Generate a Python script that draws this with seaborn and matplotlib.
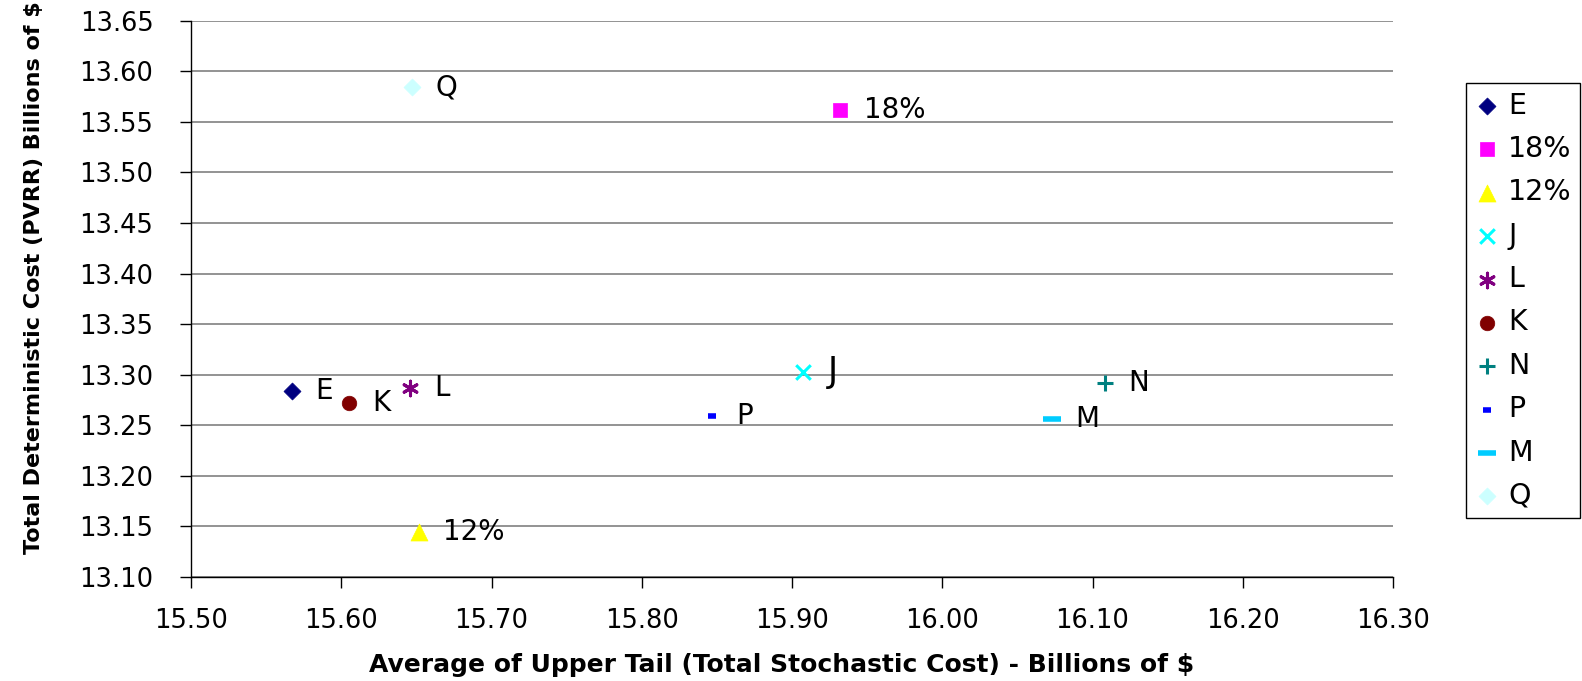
import matplotlib
matplotlib.use("Agg")
import matplotlib.pyplot as plt
import seaborn as sns

sns.set_style("white")
plt.rcParams['font.family'] = ['DejaVu Sans']
plt.rcParams['text.color'] = 'black'
plt.rcParams['xtick.color'] = 'black'
plt.rcParams['ytick.color'] = 'black'

# Data
names = ["E", "18%", "12%", "J", "L", "K", "N", "P", "M", "Q"]
x_vals = [15.567, 15.932, 15.652, 15.907, 15.646, 15.605, 16.108, 15.847, 16.073, 15.647]
y_vals = [13.284, 13.562, 13.144, 13.303, 13.287, 13.272, 13.292, 13.259, 13.256, 13.584]
colors = ["#000080", "#FF00FF", "#FFFF00", "#00FFFF", "#800080", "#800000",
          "#008080", "#0000FF", "#00CCFF", "#CCFFFF"]
markers = ["D", "s", "^", "x", (6, 2, 0), "o", "+", "_", "_", "D"]
sizes = [75, 90, 150, 110, 110, 110, 130, 40, 160, 75]
x_ticks = [15.50, 15.60, 15.70, 15.80, 15.90, 16.00, 16.10, 16.20, 16.30]
y_ticks = [13.10, 13.15, 13.20, 13.25, 13.30, 13.35, 13.40, 13.45, 13.50, 13.55, 13.60, 13.65]

fig = plt.figure(figsize=(15.82, 6.81), dpi=100)
ax = fig.add_axes([191/1582, 1-577/681, (1393-191)/1582, (577-20.7)/681])

for n, xv, yv, c, m, s in zip(names, x_vals, y_vals, colors, markers, sizes):
    filled = m in ("D", "s", "^", "o")
    if filled:
        sns.scatterplot(x=[xv], y=[yv], marker=m, color=c, s=s, edgecolor=c,
                        linewidth=0.5, label=n, ax=ax, zorder=3)
    else:
        sns.scatterplot(x=[xv], y=[yv], marker=m, color=c, s=s,
                        linewidth=2.2 if m != "_" else 4, label=n, ax=ax, zorder=3)
    fsz = 25 if n == "J" else 20
    off = 18 if n == "J" else 17
    ax.annotate(n, (xv, yv), xytext=(off, 0), textcoords="offset points",
                va="center", ha="left", fontsize=fsz, color="black")

ax.set_xlim(15.50, 16.30)
ax.set_ylim(13.10, 13.65)
ax.set_xticks(x_ticks)
ax.set_yticks(y_ticks)
ax.set_xticklabels([f"{t:.2f}" for t in x_ticks], fontsize=18.5)
ax.set_yticklabels([f"{t:.2f}" for t in y_ticks], fontsize=18.5)
ax.tick_params(axis="both", direction="out", length=8, width=1, color="black",
               left=True, bottom=True)
ax.tick_params(axis="y", pad=19)
ax.tick_params(axis="x", pad=14)
ax.yaxis.grid(True, color="#808080", linewidth=1.2)
ax.set_axisbelow(True)
for side in ["top", "right"]:
    ax.spines[side].set_visible(False)
for side in ["left", "bottom"]:
    ax.spines[side].set_color("black")
    ax.spines[side].set_linewidth(1)
ax.set_xlabel("")
ax.set_ylabel("")

fig.text(782/1582, 1-672/681, "Average of Upper Tail (Total Stochastic Cost) - Billions of $",
         ha="center", va="baseline", fontsize=18, fontweight="bold")
fig.text(34/1582, 1-554/681, "Total Deterministic Cost (PVRR) Billions of $",
         rotation=90, ha="center", va="bottom", fontsize=16, fontweight="bold")

leg = ax.legend(loc="upper left", bbox_to_anchor=(1466/1582, 1-83/681),
                bbox_transform=fig.transFigure, fontsize=20.5, frameon=True,
                fancybox=False, framealpha=1, edgecolor="black",
                labelspacing=0.54, handlelength=0.88, handletextpad=0.3,
                borderpad=0.3, borderaxespad=0, markerscale=1.0)
leg.get_frame().set_linewidth(1)

fig.savefig("out.png", dpi=100)
